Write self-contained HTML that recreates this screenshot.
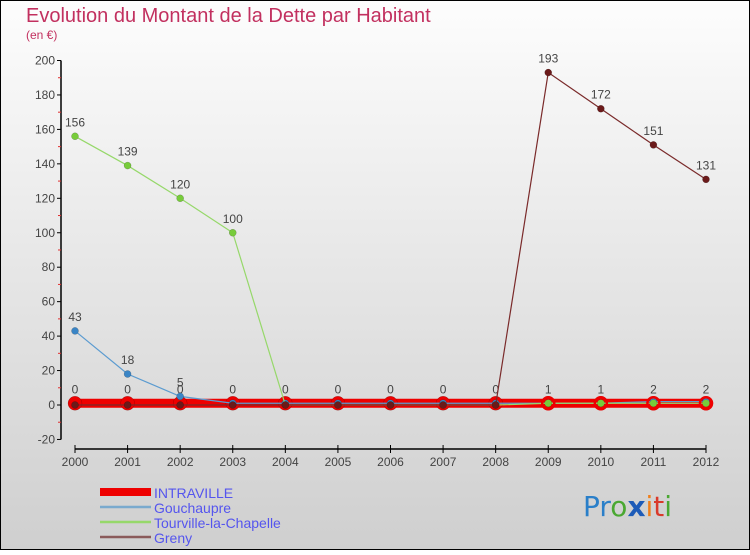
<!DOCTYPE html>
<html><head><meta charset="utf-8"><style>
html,body{margin:0;padding:0}
body{width:750px;height:550px;overflow:hidden;font-family:"Liberation Sans",sans-serif}
</style></head><body>
<svg id="c" width="750" height="550" xmlns="http://www.w3.org/2000/svg">
<defs><linearGradient id="bg" x1="0" y1="0" x2="0" y2="1"><stop offset="0" stop-color="#fdfdfd"/><stop offset="1" stop-color="#cfcfcf"/></linearGradient></defs>
<rect x="0.5" y="0.5" width="749" height="549" fill="url(#bg)" stroke="#000"/>
<text x="26" y="22" font-size="20" fill="#c2305f">Evolution du Montant de la Dette par Habitant</text>
<text x="26" y="39" font-size="12" fill="#c2305f">(en €)</text>
<g id="axes"></g><g id="series"></g><g id="legend"></g>
<text x="583" y="516" font-size="28" font-family="DejaVu Sans, sans-serif"><tspan fill="#2a7fc9">Pr</tspan><tspan fill="#4aa832">o</tspan><tspan fill="#1d5bb8" font-weight="bold">x</tspan><tspan fill="#f07f1a">i</tspan><tspan fill="#d93a2b">t</tspan><tspan fill="#4aa832">i</tspan></text>
</svg>
<script>
const years=[2000,2001,2002,2003,2004,2005,2006,2007,2008,2009,2010,2011,2012];
const yTicks=[-20,0,20,40,60,80,100,120,140,160,180,200];
const seriesNames=["INTRAVILLE","Gouchaupre","Tourville-la-Chapelle","Greny"];
const intraville=[1,1,1,1,1,1,1,1,1,1,1,1,1];
const gouchaupre=[43,18,5,1,1,1,1,1,1,1,1,2,2];
const tourville=[156,139,120,100,0,0,0,0,0,1,1,1,1];
const greny=[0,0,0,0,0,0,0,0,0,193,172,151,131];
const intraLabels=["0","0","0","0","0","0","0","0","0","1","1","2","2"];
const NS="http://www.w3.org/2000/svg";
const X=i=>75+i*(706-75)/12;
const Y=v=>405-v*(405-60.5)/200;
function mk(t,a,p){const e=document.createElementNS(NS,t);for(const k in a)e.setAttribute(k,a[k]);p.appendChild(e);return e;}
const ax=document.getElementById('axes');
const yax=mk('line',{x1:61,y1:Y(200),x2:61,y2:Y(-20),stroke:'#000','stroke-width':1.5},ax);


yTicks.forEach(v=>{
 mk('line',{x1:57,x2:61,y1:Y(v),y2:Y(v),stroke:'#000'},ax);
 if(v<200) mk('line',{x1:58,x2:61,y1:Y(v+10),y2:Y(v+10),stroke:'#e03030'},ax);
 const t=mk('text',{x:55,y:Y(v)+4,'font-size':12,fill:'#444','text-anchor':'end'},ax);t.textContent=v;
 
 
});
const xax=mk('line',{x1:X(0),y1:449,x2:X(12),y2:449,stroke:'#000','stroke-width':1.5},ax);


years.forEach((y,i)=>{
 mk('line',{x1:X(i),x2:X(i),y1:445,y2:453,stroke:'#000'},ax);
 const t=mk('text',{x:X(i),y:466,'font-size':12,fill:'#444','text-anchor':'middle'},ax);t.textContent=y;
 
 
});
const sg=document.getElementById('series');
function draw(vals,color,w,dotFill,dotR,ring,labels,name){
 const g=mk('g',{},sg);
 
 
 mk('polyline',{points:vals.map((v,i)=>X(i)+','+Y(v)).join(' '),fill:'none',stroke:color,'stroke-width':w},g);
 vals.forEach((v,i)=>{
  if(ring) mk('circle',{cx:X(i),cy:Y(v),r:7,fill:'#e00'},g);
  const c=mk('circle',{cx:X(i),cy:Y(v),r:dotR,fill:dotFill,stroke:'rgba(0,0,0,0.3)','stroke-width':0.5},g);
  
  
  if(labels&&labels[i]!==null){const t=mk('text',{x:X(i),y:Y(v)-10,'font-size':12,fill:'#444','text-anchor':'middle'},g);t.textContent=labels[i];}
 });
}
draw(intraville,'#ee0000',9,'#ee0000',7,false,intraLabels,'series-intraville');
draw(gouchaupre,'#5b9bd0',1.2,'#3a85c6',3.5,false,gouchaupre.map((v,i)=>i<3?String(v):null),'series-gouchaupre');
draw(tourville,'#96d86a',1.2,'#77cc3a',3.5,false,tourville.map((v,i)=>i<4?String(v):null),'series-tourville');
draw(greny,'#7a2a2a',1.2,'#6b1a1a',3.5,false,greny.map((v,i)=>i>8?String(v):null),'series-greny');
// ring markers at 2009-2012 where green over red
[9,10,11,12].forEach(i=>{mk('circle',{cx:X(i),cy:Y(1),r:6,fill:'none',stroke:'#e00','stroke-width':2.5},sg);mk('circle',{cx:X(i),cy:Y(1),r:3.5,fill:'#77cc3a'},sg);});
const lg=document.getElementById('legend');
const lc=['#ee0000','#7aaace','#96d86a','#8a5a5a'],lw=[8,2.5,2.5,2.5];
seriesNames.forEach((n,i)=>{
 const y=492+i*15;
 const g=mk('g',{},lg);
 
 
 mk('line',{x1:100,x2:151,y1:y,y2:y,stroke:lc[i],'stroke-width':lw[i]},g);
 const t=mk('text',{x:154,y:y+6,'font-size':14,fill:'#5555ee'},g);t.textContent=n;
});
</script>
</body></html>
